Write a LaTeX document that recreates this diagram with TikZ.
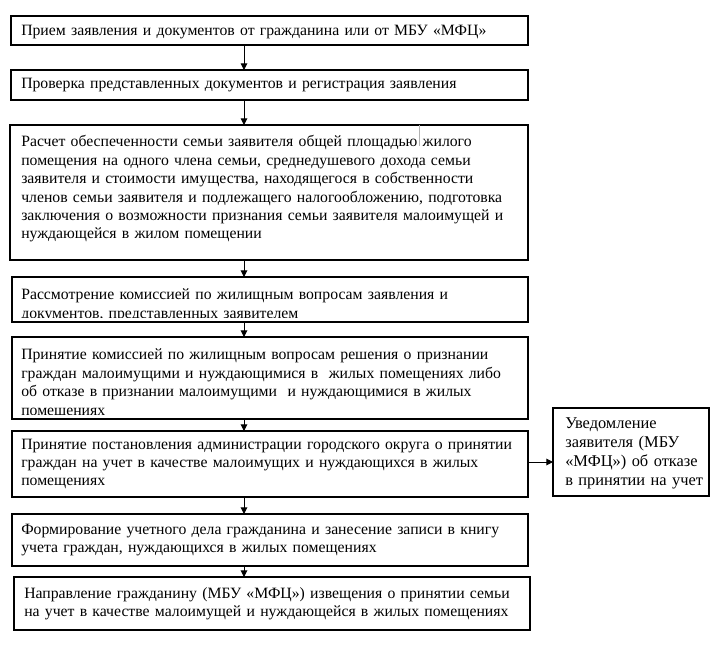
\documentclass[tikz,border=0pt]{standalone}
\usepackage{fontspec}
\setmainfont{Liberation Serif}
\usetikzlibrary{arrows.meta,positioning}

\tikzset{
  stage/.style={draw, line width=0.9pt, anchor=north west, inner sep=0pt, outer sep=0pt},
  stagetext/.style={anchor=base west, inner sep=0pt, align=left, text width=#1,
    font=\fontsize{11.8}{13.8}\selectfont},
  stagetext/.default=380pt,
  flow/.style={-{Triangle[length=5pt,width=5pt]}, line width=0.75pt},
}

\begin{document}
\begin{tikzpicture}[x=0.75pt,y=-0.75pt]
  \useasboundingbox (0,0) rectangle (725,659);
  % frames of the stages
  \node[stage, minimum width=517*0.75pt, minimum height=29*0.75pt] (b1) at (11,16) {};
  \node[stage, minimum width=517*0.75pt, minimum height=30*0.75pt] (b2) at (11,70) {};
  \node[stage, minimum width=518*0.75pt, minimum height=135*0.75pt] (b3) at (10,125) {};
  \node[stage, minimum width=516*0.75pt, minimum height=45*0.75pt] (b4) at (12,277) {};
  \node[stage, minimum width=516*0.75pt, minimum height=82*0.75pt] (b5) at (12,337) {};
  \node[stage, minimum width=516*0.75pt, minimum height=66*0.75pt] (b6) at (12,431) {};
  \node[stage, minimum width=156*0.75pt, minimum height=88*0.75pt] (bR) at (553,408) {};
  \node[stage, minimum width=516*0.75pt, minimum height=52*0.75pt] (b7) at (12,514) {};
  \node[stage, minimum width=516*0.75pt, minimum height=53*0.75pt] (b8) at (14,577) {};
  \draw[gray!60, line width=0.4pt] (419,125) -- (419,146);

  % texts
  \node[stagetext] (t1) at (21,35.5) {Прием заявления и документов от гражданина или от МБУ «МФЦ»};
  \node[stagetext] (t2) at (21,88.5) {Проверка представленных документов и регистрация заявления};
  \node[stagetext] (t3) at (21,147) {%
    \makebox[372pt][s]{Расчет обеспеченности семьи заявителя общей площадью жилого}\\
    \makebox[372pt][s]{помещения на одного члена семьи, среднедушевого дохода семьи}\\
    \makebox[372pt][s]{заявителя и стоимости имущества, находящегося в собственности}\\
    \makebox[372pt][s]{членов семьи заявителя и подлежащего налогообложению, подготовка}\\
    \makebox[372pt][s]{заключения о возможности признания семьи заявителя малоимущей и}\\
    нуждающейся в жилом помещении};
  \begin{scope}
    \clip (12,277) rectangle (528,317.5);
    \node[stagetext] (t4) at (21,300) {Рассмотрение комиссией по жилищным вопросам заявления и\\
      документов, представленных заявителем};
  \end{scope}
  \begin{scope}
    \clip (12,337) rectangle (528,414);
    \node[stagetext] (t5) at (21,360) {Принятие комиссией по жилищным вопросам решения о признании\\
      граждан малоимущими и нуждающимися в~ жилых помещениях либо\\
      об отказе в признании малоимущими~ и нуждающимися в жилых\\
      помещениях};
  \end{scope}
  \node[stagetext] (t6) at (21,449) {Принятие постановления администрации городского округа о принятии\\
    граждан на учет в качестве малоимущих и нуждающихся в жилых\\
    помещениях};
  \node[stagetext=140pt, font=\fontsize{12.3}{14.5}\selectfont] (tR) at (565,428) {Уведомление\\
    заявителя (МБУ\\
    «МФЦ») об отказе\\
    в принятии на учет};
  \node[stagetext] (t7) at (21,534) {Формирование учетного дела гражданина и занесение записи в книгу\\
    учета граждан, нуждающихся в жилых помещениях};
  \node[stagetext] (t8) at (24,598) {Направление гражданину (МБУ «МФЦ») извещения о принятии семьи\\
    на учет в качестве малоимущей и нуждающейся в жилых помещениях};

  % connectors
  \coordinate (axis) at (244,0);
  \coordinate (side) at (0,462);
  \draw[flow] (b1.south -| axis) -- (b2.north -| axis);
  \draw[flow] (b2.south -| axis) -- (b3.north -| axis);
  \draw[flow] (b3.south -| axis) -- (b4.north -| axis);
  \draw[flow] (b4.south -| axis) -- (b5.north -| axis);
  \draw[flow] (b5.south -| axis) -- (b6.north -| axis);
  \draw[flow] (b6.south -| axis) -- (b7.north -| axis);
  \draw[flow] (b7.south -| axis) -- (b8.north -| axis);
  \draw[flow] (b6.east |- side) -- (bR.west |- side);
\end{tikzpicture}
\end{document}
